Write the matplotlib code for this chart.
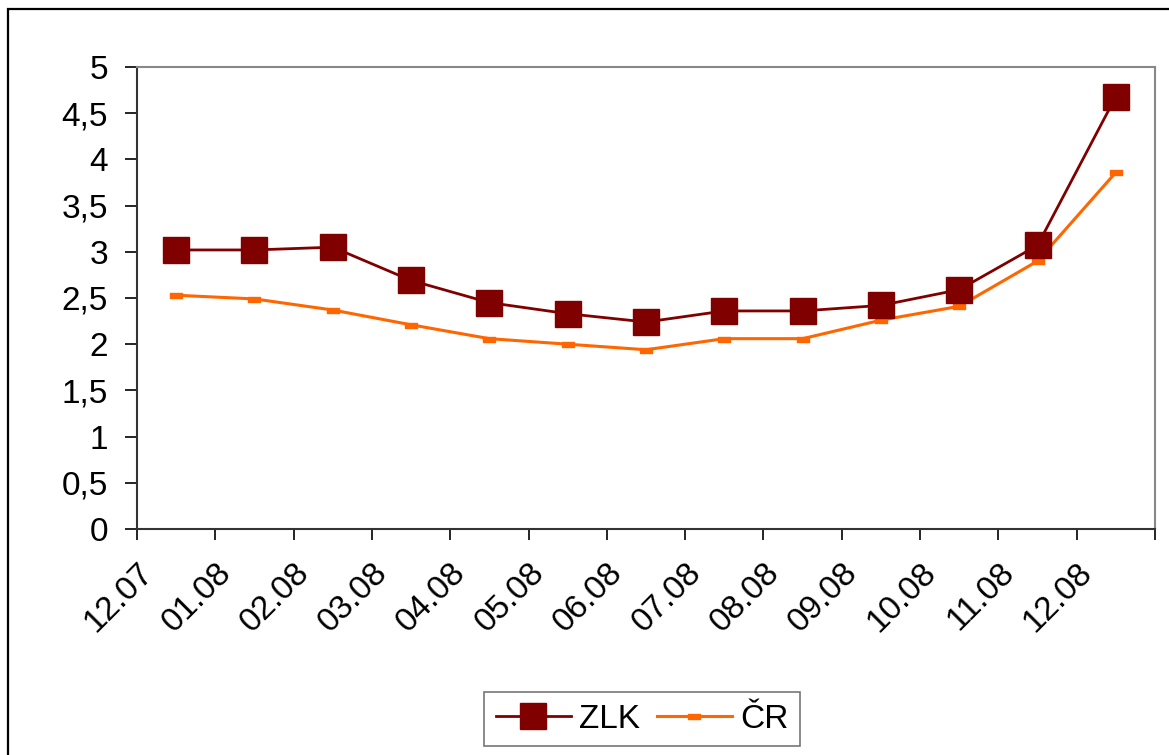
import matplotlib.pyplot as plt
from matplotlib.patches import Rectangle
from matplotlib.path import Path
import matplotlib.transforms as mtransforms

# Data
months = ['12.07', '01.08', '02.08', '03.08', '04.08', '05.08', '06.08',
          '07.08', '08.08', '09.08', '10.08', '11.08', '12.08']
zlk = [3.02, 3.02, 3.05, 2.69, 2.45, 2.33, 2.24, 2.36, 2.36, 2.42, 2.59, 3.07, 4.68]
cr = [2.53, 2.49, 2.37, 2.21, 2.06, 2.00, 1.94, 2.06, 2.06, 2.26, 2.41, 2.90, 3.86]

plt.rcParams['font.family'] = ['Liberation Sans', 'DejaVu Sans']

fig = plt.figure(figsize=(11.69, 7.55), dpi=100)
ax = fig.add_axes([137 / 1169, 1 - 529 / 755, (1155 - 137) / 1169, (529 - 67) / 755])

# Outer chart border (only top and left are visible in the reference)
fig.add_artist(Rectangle((8 / 1169, -0.01), 1.05, 1 - 9 / 755 + 0.01,
                         transform=fig.transFigure, fill=False,
                         edgecolor='black', linewidth=1.6))

x = [i + 0.5 for i in range(len(months))]
dash = Path([(-1, -0.45), (1, -0.45), (1, 0.45), (-1, 0.45), (-1, -0.45)],
            [Path.MOVETO, Path.LINETO, Path.LINETO, Path.LINETO, Path.CLOSEPOLY])

ax.plot(x, zlk, color='#800000', linewidth=2, marker='s', markersize=19,
        markerfacecolor='#800000', markeredgecolor='#800000', label='ZLK', zorder=3)
ax.plot(x, cr, color='#FF6600', linewidth=2.2, marker=dash, markersize=8,
        markerfacecolor='#FF6600', markeredgecolor='#FF6600', label='ČR', zorder=2)

ax.set_xlim(0, len(months))
ax.set_ylim(0, 5)
ax.set_yticks([0, 0.5, 1, 1.5, 2, 2.5, 3, 3.5, 4, 4.5, 5])
ax.set_yticklabels(['0', '0,5', '1', '1,5', '2', '2,5', '3', '3,5', '4', '4,5', '5'])
ax.set_xticks(range(len(months) + 1))
ax.set_xticklabels(months + [''], rotation=45, ha='right', rotation_mode='anchor')

offset = mtransforms.ScaledTranslation(16 / 100, -8 / 100, fig.dpi_scale_trans)
for lbl in ax.get_xticklabels():
    lbl.set_transform(lbl.get_transform() + offset)

ax.tick_params(axis='both', labelsize=24, colors='black', direction='out', width=1.2)
ax.tick_params(axis='y', length=9, pad=12)
ax.tick_params(axis='x', length=8, pad=12)

for side in ['left', 'bottom']:
    ax.spines[side].set_color('#333333')
    ax.spines[side].set_linewidth(1.5)
for side in ['top', 'right']:
    ax.spines[side].set_color('#888888')
    ax.spines[side].set_linewidth(1.5)

leg = ax.legend(loc='center', bbox_to_anchor=(642 / 1169, 1 - 719 / 755),
                bbox_transform=fig.transFigure, ncol=2, fontsize=24,
                frameon=True, fancybox=False, edgecolor='#555555',
                handlelength=2.25, handletextpad=0.25, columnspacing=0.5,
                borderpad=0.35, borderaxespad=0, markerscale=1.0)
leg.get_frame().set_linewidth(1.2)

fig.savefig('out.png', dpi=100)
